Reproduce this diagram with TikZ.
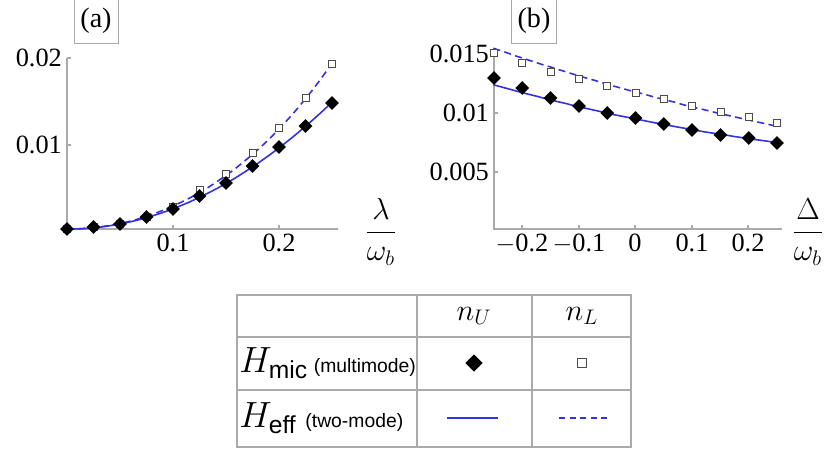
\documentclass[tikz,border=0pt]{standalone}
\usepackage{amsmath}
\usepackage{fontspec}
\setmainfont{Liberation Serif}
\setsansfont{Liberation Sans}
\usetikzlibrary{shapes.geometric}
\definecolor{fitblue}{RGB}{50,50,225}
\definecolor{gridgray}{RGB}{170,170,170}
\tikzstyle{axis} = [draw=gridgray, line width=0.6pt]
\tikzstyle{fit} = [draw=fitblue, line width=0.9pt]
\tikzstyle{dia} = [diamond, fill=black, inner sep=0pt, minimum size=8pt]
\tikzstyle{sq} = [rectangle, draw=black!70, fill=white, line width=0.4pt, inner sep=0pt, minimum size=4pt]
\tikzstyle{tick} = [font=\fontsize{15}{17}\selectfont, inner sep=1pt]
\tikzstyle{panel} = [draw=gridgray, line width=0.4pt, font=\fontsize{16}{18}\selectfont, minimum width=25pt, minimum height=25pt]
\tikzstyle{cell} = [font=\fontsize{17}{19}\selectfont]

\begin{document}
\begin{tikzpicture}[x=0.02cm, y=-0.02cm]
	\useasboundingbox (0,0) rectangle (830,449);

	% Panel (a)
	\node[panel] (pa) at (96,21) {(a)};
	\draw[axis] (67,58) -- (67,229) -- (338,229);
	\foreach \yy/\lab in {58/0.02, 145/0.01} {
		\draw[axis] (67,\yy) -- (71,\yy);
		\node[tick, anchor=east] (ya\lab) at (64,\yy) {\lab};
	}
	\foreach \xx/\lab in {173/0.1, 279/0.2} {
		\draw[axis] (\xx,229) -- (\xx,225);
		\node[tick, anchor=north] (xa\lab) at (\xx,232) {\lab};
	}
	\node[tick, font=\fontsize{18}{20}\selectfont] (lama) at (381,232) {$\dfrac{\lambda}{\omega_b}$};
	\draw[fit] plot[domain=0:0.25, samples=40] ({67+1060*\x},{229-8600*(0.236*\x*\x)});
	\draw[fit, dash pattern=on 4pt off 2.5pt] plot[domain=0:0.25, samples=40] ({67+1060*\x},{229-8600*(0.26*\x*\x+0.78*\x*\x*\x*\x)});
	\foreach \i/\yl/\yu in {0/229/229, 1/227/227, 2/224/224, 3/217/217, 4/207/209, 5/190/196, 6/174/183, 7/153/166, 8/128/147, 9/98/126, 10/64/103} {
		\node[sq] (sqa\i) at ({67+26.5*\i},\yl) {};
		\node[dia] (dia\i) at ({67+26.5*\i},\yu) {};
	}

	% Panel (b)
	\node[panel] (pb) at (534,21) {(b)};
	\draw[axis] (494,48) -- (494,229) -- (782,229);
	\foreach \yy/\lab in {54/0.015, 113/0.01, 172/0.005} {
		\draw[axis] (494,\yy) -- (498,\yy);
		\node[tick, anchor=east] (yb\lab) at (491,\yy) {\lab};
	}
	\foreach \xx/\lab in {522/$-$0.2, 579/$-$0.1, 635/0, 692/0.1, 748/0.2} {
		\draw[axis] (\xx,229) -- (\xx,225);
		\node[tick, anchor=north] at (\xx,232) {\lab};
	}
	\node[tick, font=\fontsize{18}{20}\selectfont] (delb) at (808,232) {$\dfrac{\Delta}{\omega_b}$};
	\draw[fit] plot[domain=-0.25:0.25, samples=40] ({635+566*\x},{231-11800*(0.0095-0.0098*\x+0.0072*\x*\x)});
	\draw[fit, dash pattern=on 4pt off 2.5pt] plot[domain=-0.25:0.25, samples=40] ({635+566*\x},{231-11800*(0.0118-0.0132*\x+0.0064*\x*\x)});
	\foreach \i/\yl/\yu in {0/53/78, 1/63/88, 2/72/98, 3/79/106, 4/86/113, 5/93/118, 6/99/124, 7/106/130, 8/112/135, 9/117/138, 10/123/143} {
		\node[sq] (sqb\i) at ({494+28.3*\i},\yl) {};
		\node[dia] (dib\i) at ({494+28.3*\i},\yu) {};
	}

	% Legend table
	\draw[gridgray, line width=1.2pt] (237,295) rectangle (631,447);
	\draw[gridgray, line width=1.2pt] (237,337) -- (631,337);
	\draw[gridgray, line width=1.2pt] (237,390) -- (631,390);
	\draw[gridgray, line width=1.2pt] (417,295) -- (417,447);
	\draw[gridgray, line width=1.2pt] (532,295) -- (532,447);
	\node[cell] (nu) at (474,316) {$n_U$};
	\node[cell] (nl) at (582,316) {$n_L$};
	\node[anchor=west, inner sep=0pt] (hmic) at (239,363) {\fontsize{20}{22}\selectfont$H_{\textsf{\fontsize{14}{16}\selectfont mic}}$\,\textsf{\fontsize{11}{13}\selectfont(multimode)}};
	\node[anchor=west, inner sep=0pt] (heff) at (239,418) {\fontsize{20}{22}\selectfont$H_{\textsf{\fontsize{14}{16}\selectfont eff}}$\ \textsf{\fontsize{11}{13}\selectfont(two-mode)}};
	\node[dia, minimum size=10pt] (lgd) at (474,363) {};
	\node[sq, minimum size=5.5pt] (lgs) at (582,363) {};
	\coordinate (ls1) at (447,418);
	\coordinate (ls2) at (498,418);
	\coordinate (ld1) at (559,418);
	\coordinate (ld2) at (609,418);
	\draw[fit] (ls1) -- (ls2);
	\draw[fit, dash pattern=on 3.5pt off 2.5pt] (ld1) -- (ld2);

\end{tikzpicture}
\end{document}
